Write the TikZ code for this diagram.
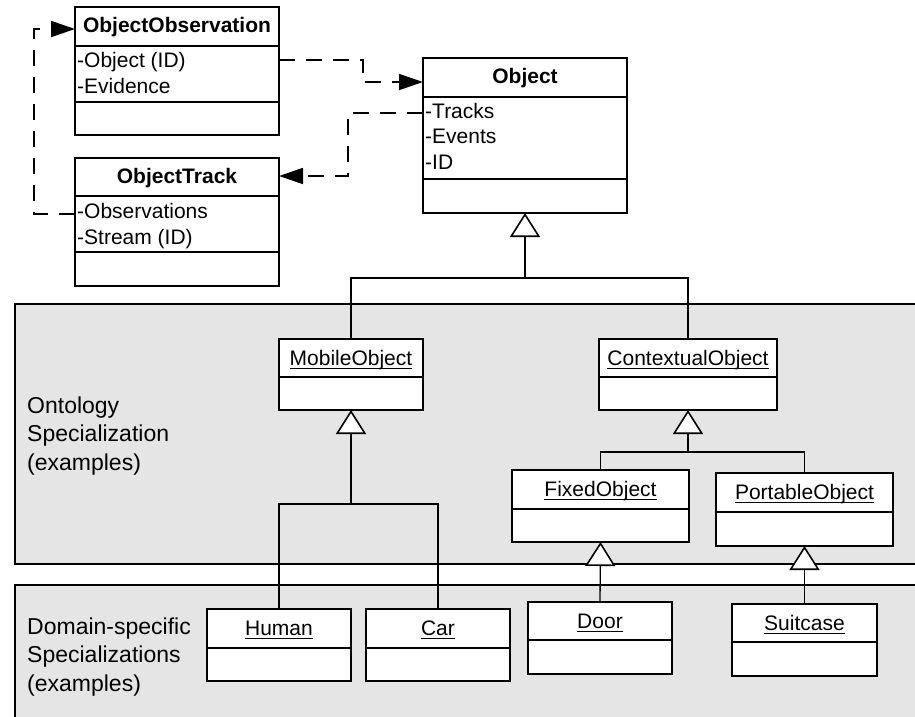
\documentclass[tikz,border=0pt]{standalone}
\usepackage{fontspec}
\setmainfont{Liberation Sans}
\usetikzlibrary{arrows.meta}
\definecolor{regiongray}{gray}{0.9}
\newcommand{\UMLclass}[6]{% node name, left x, top y, right x, bottom y, y of the divider lines
	\node [classbox,minimum width=#4-#2,minimum height=#5-#3] (#1) at ({(#2+#4)/2},{(#3+#5)/2}) {};
	\foreach \ly in {#6} \draw [classline](#2,\ly)--(#4,\ly);
	}
\newcommand{\ulname}[1]{\setbox0=\hbox{#1}\rlap{\rule[-4pt]{\wd0}{1.3pt}}\box0}% underlined class name

\begin{document}
\begin{tikzpicture}[x=1pt,y=-1pt,font=\fontsize{21}{25.5}\selectfont,
	classbox/.style={draw,fill=white,line width=1.8pt,inner sep=0pt,outer sep=0pt},
	classline/.style={line width=1.8pt},
	txt/.style={inner sep=0pt},
	label/.style={inner sep=0pt,anchor=base west,font=\fontsize{23}{28.5}\selectfont},
	dep/.style={line width=1.8pt,dash pattern=on 16pt off 11pt,-{Triangle[length=24pt,width=16pt]}},
	genline/.style={line width=1.3pt},
	inherit/.style={-{Triangle[length=24pt,width=30pt,fill=white,line width=1.6pt]}},
	region/.style={draw,fill=regiongray,line width=1.8pt}]
	\path [use as bounding box,clip] (0,0) rectangle (915,716);
	% grey areas
	\draw [region] (15,304) rectangle (930,564);
	\draw [region] (15,585) rectangle (930,730);
	\node [label] (ontoA) at (27,413) {Ontology};
	\node [label] (ontoB) at (27,441.5) {Specialization};
	\node [label] (ontoC) at (27,470) {(examples)};
	\node [label] (domA) at (27,634) {Domain-specific};
	\node [label] (domB) at (27,662.5) {Specializations};
	\node [label] (domC) at (27,691) {(examples)};
	% classes
	\UMLclass{obs}{75}{7}{279}{135}{46,102}
	\UMLclass{trk}{75}{158}{279}{286}{196,252}
	\UMLclass{obj}{423}{58}{627}{213}{97,179}
	\UMLclass{mob}{279}{339}{423}{410}{377}
	\UMLclass{ctx}{599}{339}{777}{410}{377}
	\UMLclass{fix}{512}{470}{689}{542}{509}
	\UMLclass{por}{716}{473}{893}{546}{512}
	\UMLclass{human}{207}{609}{351}{681}{648}
	\UMLclass{car}{366}{609}{510}{681}{648}
	\UMLclass{door}{528}{602}{672}{674}{640}
	\UMLclass{suit}{732}{604}{877}{676}{642}
	\node [txt,anchor=base] (obsT) at (177,32) {\bfseries ObjectObservation};
	\node [txt,anchor=base west] (obsA) at (77,67) {-Object (ID)};
	\node [txt,anchor=base west] (obsB) at (77,93) {-Evidence};
	\node [txt,anchor=base] (trkT) at (177,183) {\bfseries ObjectTrack};
	\node [txt,anchor=base west] (trkA) at (77,218) {-Observations};
	\node [txt,anchor=base west] (trkB) at (77,244) {-Stream (ID)};
	\node [txt,anchor=base] (objT) at (525,83) {\bfseries Object};
	\node [txt,anchor=base west] (objA) at (425,118) {-Tracks};
	\node [txt,anchor=base west] (objB) at (425,143.5) {-Events};
	\node [txt,anchor=base west] (objC) at (425,169) {-ID};
	\node [txt,anchor=base] (mobT) at (351,365) {\ulname{MobileObject}};
	\node [txt,anchor=base] (ctxT) at (688,365) {\ulname{ContextualObject}};
	\node [txt,anchor=base] (fixT) at (600.5,496) {\ulname{FixedObject}};
	\node [txt,anchor=base] (porT) at (804.5,499) {\ulname{PortableObject}};
	\node [txt,anchor=base] (humanT) at (279,635) {\ulname{Human}};
	\node [txt,anchor=base] (carT) at (438,635) {\ulname{Car}};
	\node [txt,anchor=base] (doorT) at (600,628) {\ulname{Door}};
	\node [txt,anchor=base] (suitT) at (804.5,630) {\ulname{Suitcase}};
	% dependencies
	\coordinate (d1) at (363,60);
	\coordinate (d1b) at (363,82);
	\coordinate (d2) at (348,113);
	\coordinate (d2b) at (348,176);
	\coordinate (d3) at (34,214);
	\coordinate (d3b) at (34,29);
	\draw [dep] (d1 -| obs.east) -- (d1) -- (d1b) -- (d1b -| obj.west);
	\draw [dep] (d2 -| obj.west) -- (d2) -- (d2b) -- (d2b -| trk.east);
	\draw [dep] (d3 -| trk.west) -- (d3) -- (d3b) -- (d3b -| obs.west);
	% generalizations
	\coordinate (objbus) at (525,278);
	\coordinate (mobbus) at (351,504);
	\coordinate (ctxbus) at (688,452);
	\draw [genline] (mob.north) |- (objbus) -| (ctx.north);
	\draw [genline,inherit] (objbus) -- (obj.south);
	\draw [genline] (human.north) |- (mobbus) -| (car.north);
	\draw [genline,inherit] (mobbus) -- (mob.south);
	\draw [genline] (fix.north) |- (ctxbus) -| (por.north);
	\draw [genline,inherit] (ctxbus) -- (ctx.south);
	\draw [genline,inherit] (door.north) -- (fix.south);
	\draw [genline,inherit] (suit.north) -- (por.south);
\end{tikzpicture}
\end{document}
